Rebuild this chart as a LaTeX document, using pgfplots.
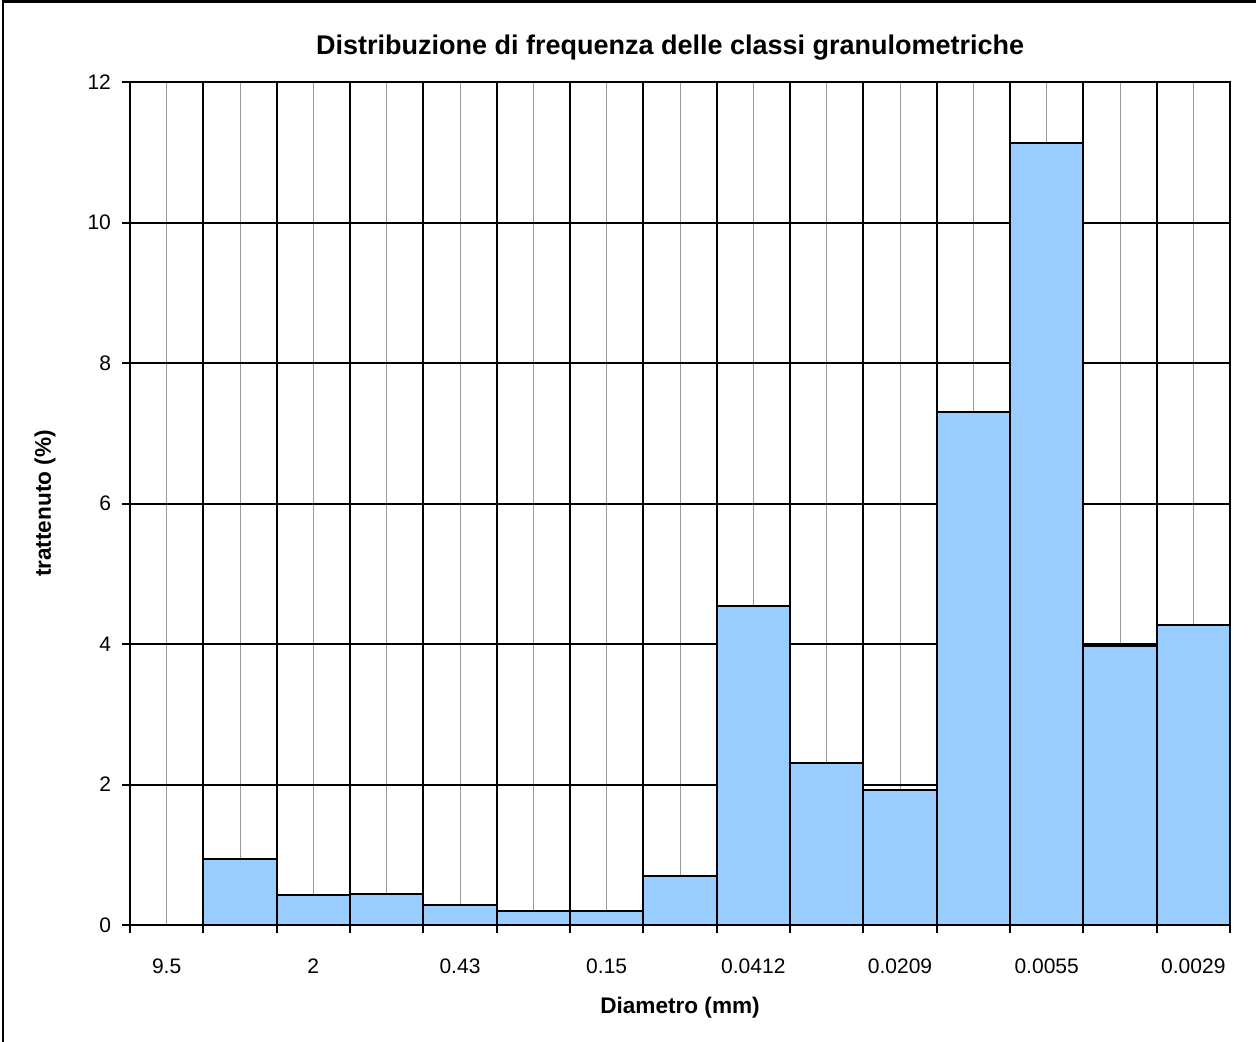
\documentclass[border=0pt]{standalone}
\usepackage{pgfplots}
\pgfplotsset{compat=1.18}
\usepackage{fontspec}
\setmainfont{Liberation Sans}
\definecolor{barblue}{HTML}{99CCFF}
\begin{document}
\begin{tikzpicture}
\useasboundingbox (-65pt,-58pt) rectangle (563pt,462.5pt);
\draw[line width=1.2pt] (-63.5pt,-70pt) -- (-63.5pt,461.8pt) -- (570pt,461.8pt);
\begin{axis}[
  at={(0,0)}, anchor=south west,
  scale only axis, width=550pt, height=421.5pt,
  xmin=-0.5, xmax=14.5, ymin=0, ymax=12,
  xtick={-0.5,0.5,1.5,2.5,3.5,4.5,5.5,6.5,7.5,8.5,9.5,10.5,11.5,12.5,13.5,14.5},
  xticklabels={},
  minor xtick={0,1,2,3,4,5,6,7,8,9,10,11,12,13,14},
  ytick={0,2,4,6,8,10,12},
  tick align=outside, major tick length=4pt, minor tick length=0pt,
  xtick pos=bottom, ytick pos=left,
  xmajorgrids, xminorgrids, ymajorgrids,
  major grid style={black, line width=1pt},
  minor grid style={gray!80, line width=0.5pt},
  extra x ticks={0,2,4,6,8,10,12,14},
  extra x tick labels={9.5,2,0.43,0.15,0.0412,0.0209,0.0055,0.0029},
  extra x tick style={grid=none, major tick length=0pt, xticklabel style={yshift=-13.5pt}},
  axis line style={black, line width=1pt},
  tick style={black, line width=1pt},
  /pgf/number format/assume math mode=true,
  ticklabel style={font=\fontsize{10.5}{12}\selectfont},
  yticklabel style={xshift=-2pt},
  xlabel={\textbf{Diametro (mm)}},
  ylabel={\textbf{trattenuto (\%)}},
  xlabel style={at={(axis description cs:0.5,0)}, anchor=center, yshift=-41.5pt, font=\fontsize{11.3}{13}\selectfont},
  ylabel style={at={(axis description cs:0,0.5)}, anchor=center, yshift=42.5pt, font=\fontsize{11.3}{13}\selectfont},
  title={\textbf{Distribuzione di frequenza delle classi granulometriche}},
  title style={at={(axis description cs:0.491,1)}, anchor=center, yshift=11pt, font=\fontsize{13.5}{16}\selectfont},
]
\addplot[ybar, bar width=1, fill=barblue, draw=black, line width=1pt] coordinates {
(1,0.94) (2,0.43) (3,0.44) (4,0.29) (5,0.20) (6,0.195) (7,0.70)
(8,4.54) (9,2.31) (10,1.92) (11,7.30) (12,11.13) (13,3.97) (14,4.27)
};
\end{axis}
\end{tikzpicture}
\end{document}
